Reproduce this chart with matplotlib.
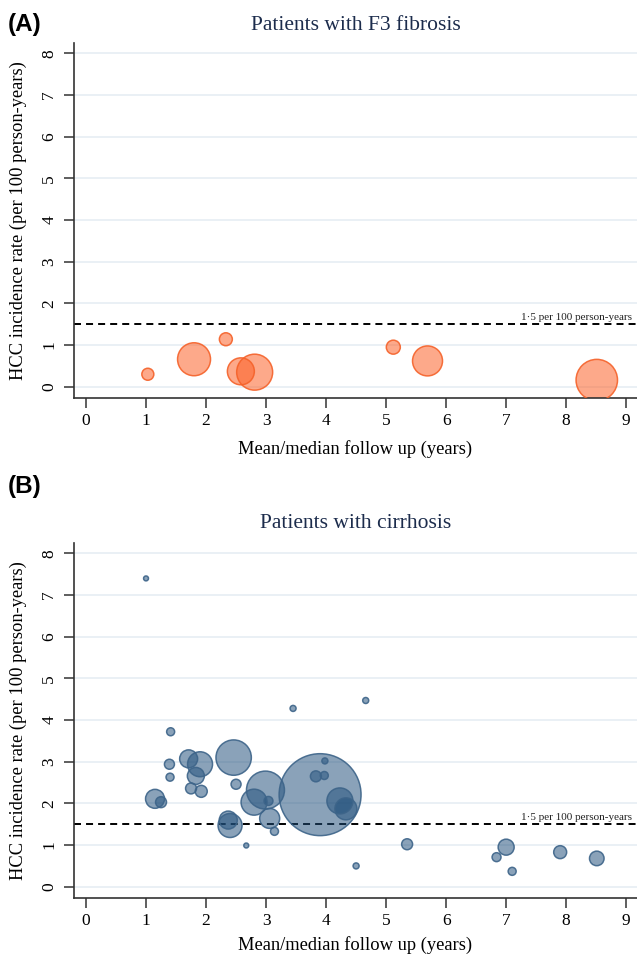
import matplotlib
matplotlib.use("Agg")
import matplotlib.pyplot as plt
import numpy as np

# ---- Data ----
# Panel A: patients with F3 fibrosis
f3_followup = [1.03, 1.80, 2.33, 2.58, 2.81, 5.12, 5.69, 8.51]
f3_rate = [0.30, 0.66, 1.14, 0.37, 0.35, 0.95, 0.62, 0.16]
f3_weight = [36, 272, 42, 182, 324, 49, 225, 430]

# Panel B: patients with cirrhosis
cir_followup = [1.00, 1.41, 1.39, 1.40, 1.15, 1.25, 1.71, 1.90, 1.83, 1.75,
                1.92, 2.46, 2.50, 2.37, 2.40, 2.67, 2.99, 2.80, 3.04, 3.06,
                3.14, 3.45, 3.90, 3.98, 3.83, 3.97, 4.23, 4.33, 4.66, 4.50,
                5.35, 6.84, 7.00, 7.10, 7.90, 8.51]
cir_rate = [7.40, 3.72, 2.94, 2.63, 2.11, 2.03, 3.07, 2.94, 2.66, 2.36,
            2.29, 3.10, 2.46, 1.60, 1.47, 0.99, 2.32, 2.03, 2.06, 1.64,
            1.33, 4.28, 2.21, 3.02, 2.65, 2.67, 2.06, 1.87, 4.47, 0.50,
            1.02, 0.71, 0.95, 0.37, 0.83, 0.68]
cir_weight = [6, 16, 25, 16, 90, 30, 81, 156, 72, 30,
              36, 313, 25, 81, 144, 6, 361, 169, 20, 100,
              16, 9, 1681, 9, 30, 16, 169, 121, 9, 9,
              30, 20, 64, 16, 42, 53]

threshold = 1.5
threshold_label = "1\u00b75 per 100 person-years"
x_ticks = list(range(0, 10))
y_ticks = list(range(0, 9))
titles = ["Patients with F3 fibrosis", "Patients with cirrhosis"]
panel_labels = ["(A)", "(B)"]
xlabel = "Mean/median follow up (years)"
ylabel = "HCC incidence rate (per 100 person-years)"

# ---- Figure ----
W, H = 637, 957
fig = plt.figure(figsize=(W / 100, H / 100), dpi=100)
serif = ["Liberation Serif", "DejaVu Serif"]

def px_axes(left, top, right, bottom):
    return [left / W, 1 - bottom / H, (right - left) / W, (bottom - top) / H]

panels = [
    dict(rect=px_axes(74, 43, 637, 398), x=f3_followup, y=f3_rate, w=f3_weight,
         face="#fc5b1f", edge="#f5622a", title_y=25, lab_y=25, xlab=-0.118),
    dict(rect=px_axes(74, 543, 637, 898), x=cir_followup, y=cir_rate, w=cir_weight,
         face="#1f4e7a", edge="#3d6489", title_y=524, lab_y=487, xlab=-0.108),
]

size_scale = 2.07  # points^2 per weight unit

for i, p in enumerate(panels):
    ax = fig.add_axes(p["rect"])
    ax.set_xlim(-0.2, 9.18)
    ax.set_ylim(-0.27, 8.25)
    for yv in y_ticks:
        ax.axhline(yv, color="#e8eff4", lw=1.3, zorder=0)
    ax.axhline(threshold, color="black", lw=1.4, linestyle=(0, (3.6, 2.6)), zorder=1)
    ax.text(0.991, threshold + 0.06, threshold_label, transform=ax.get_yaxis_transform(),
            ha="right", va="bottom", fontsize=8, family=serif, color="#222222")
    s = np.array(p["w"]) * size_scale
    ax.scatter(p["x"], p["y"], s=s, facecolor=p["face"], alpha=0.52,
               edgecolor="none", zorder=2)
    ax.scatter(p["x"], p["y"], s=s, facecolor="none", edgecolor=p["edge"],
               linewidth=1.1, alpha=0.9, zorder=3)

    ax.set_xticks(x_ticks)
    ax.set_yticks(y_ticks)
    ax.set_xticklabels([str(v) for v in x_ticks], family=serif, fontsize=12.5)
    ax.set_yticklabels([str(v) for v in y_ticks], family=serif, fontsize=12.5,
                       rotation=90, va="center")
    ax.tick_params(axis="both", direction="out", length=7, width=1.1, color="#333333")
    ax.tick_params(axis="x", pad=3.5)
    ax.tick_params(axis="y", pad=5)
    for sp in ["top", "right"]:
        ax.spines[sp].set_visible(False)
    for sp in ["left", "bottom"]:
        ax.spines[sp].set_color("#333333")
        ax.spines[sp].set_linewidth(1.2)

    ax.set_xlabel(xlabel, family=serif, fontsize=13.3)
    ax.xaxis.set_label_coords(0.5, p["xlab"])
    ax.set_ylabel(ylabel, family=serif, fontsize=13.3)
    ax.yaxis.set_label_coords(-0.084, 0.5)

    cx = (p["rect"][0] + p["rect"][2] / 2)
    fig.text(cx, 1 - p["title_y"] / H, titles[i], ha="center", va="center",
             family=serif, fontsize=15.5, color="#1c2c4c")
    fig.text(8 / W, 1 - p["lab_y"] / H, panel_labels[i], ha="left", va="center",
             family=["Liberation Sans", "DejaVu Sans"], fontweight="bold", fontsize=17.5)

fig.savefig("out.png", dpi=100)
